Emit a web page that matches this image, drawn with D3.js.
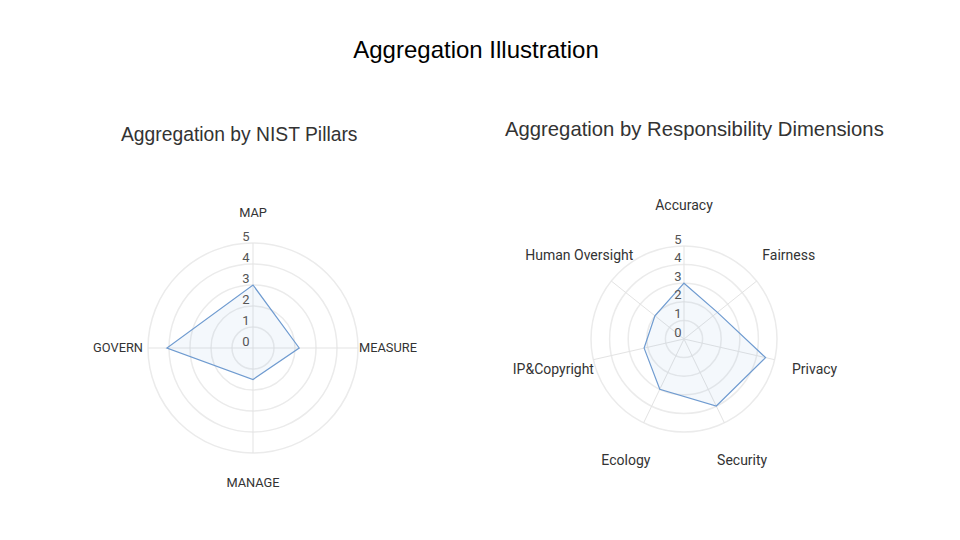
<!DOCTYPE html>
<html><head><meta charset="utf-8">
<script src="https://cdn.jsdelivr.net/npm/d3@7"></script>
<style>body{margin:0;background:#fff}svg{display:block}</style>
</head><body>
<svg id="c" width="960" height="540"></svg>
<script>
const nistAxes = ["MAP", "MEASURE", "MANAGE", "GOVERN"];
const nistValues = [3.0, 2.2, 1.5, 4.1];
const respAxes = ["Accuracy", "Fairness", "Privacy", "Security", "Ecology", "IP&Copyright", "Human Oversight"];
const respValues = [3.0, 2.3, 4.5, 4.0, 3.0, 2.2, 2.0];
const ticks = [0, 1, 2, 3, 4, 5];

const svg = d3.select("#c");
svg.append("text").attr("x", 476).attr("y", 58).attr("text-anchor", "middle")
  .attr("font-family", "Liberation Sans, Arial, sans-serif").attr("font-size", 24).attr("fill", "#000")
  .text("Aggregation Illustration");

function radar(cfg) {
  const g = svg.append("g").attr("transform", `translate(${cfg.cx},${cfg.cy})`);
  const r = d3.scaleLinear().domain([0, 5]).range([0, cfg.R]);
  const n = cfg.axes.length;
  const ang = d3.scaleLinear().domain([0, n]).range([0, 2 * Math.PI]);
  g.selectAll("circle.ring").data(ticks.slice(1)).join("circle")
    .attr("r", d => r(d)).attr("fill", "none").attr("stroke", "#ebebeb").attr("stroke-width", 1.5);
  g.selectAll("line.spoke").data(cfg.axes).join("line")
    .attr("x1", 0).attr("y1", 0)
    .attr("x2", (d, i) => Math.sin(ang(i)) * cfg.R)
    .attr("y2", (d, i) => -Math.cos(ang(i)) * cfg.R)
    .attr("stroke", "#e3e3e3").attr("stroke-width", 1);
  const line = d3.lineRadial().angle((d, i) => ang(i)).radius(d => r(d)).curve(d3.curveLinearClosed);
  g.append("path").datum(cfg.values).attr("d", line)
    .attr("fill", "rgba(120,160,220,0.08)").attr("stroke", "#6f9bd0").attr("stroke-width", 1.2);
  g.selectAll("text.tick").data(ticks).join("text")
    .attr("x", cfg.tickDx).attr("y", d => -r(d) - 7).attr("dy", "0.35em")
    .attr("text-anchor", "middle").attr("font-family", "Roboto, sans-serif")
    .attr("font-size", 13).attr("fill", "#555").text(d => d);
  g.selectAll("text.lab").data(cfg.axes).join("text")
    .attr("x", (d, i) => Math.sin(ang(i)) * cfg.labelR)
    .attr("y", (d, i) => -Math.cos(ang(i)) * cfg.labelR)
    .attr("dy", "0.35em").attr("text-anchor", "middle")
    .attr("font-family", "Roboto, sans-serif").attr("font-size", cfg.fs).attr("fill", "#333")
    .text(d => d);
  svg.append("text").attr("x", cfg.tx).attr("y", cfg.ty)
    .attr("font-family", "Liberation Sans, Arial, sans-serif").attr("font-size", cfg.tfs).attr("fill", "#333")
    .text(cfg.title);
}

radar({cx: 253, cy: 348, R: 105, labelR: 135, axes: nistAxes, values: nistValues, tickDx: -7, fs: 12.8,
  title: "Aggregation by NIST Pillars", tx: 121, ty: 141, tfs: 19.3});
radar({cx: 684, cy: 339, R: 93, labelR: 134, axes: respAxes, values: respValues, tickDx: -6, fs: 14,
  title: "Aggregation by Responsibility Dimensions", tx: 505, ty: 136, tfs: 20.3});
</script>
</body></html>
